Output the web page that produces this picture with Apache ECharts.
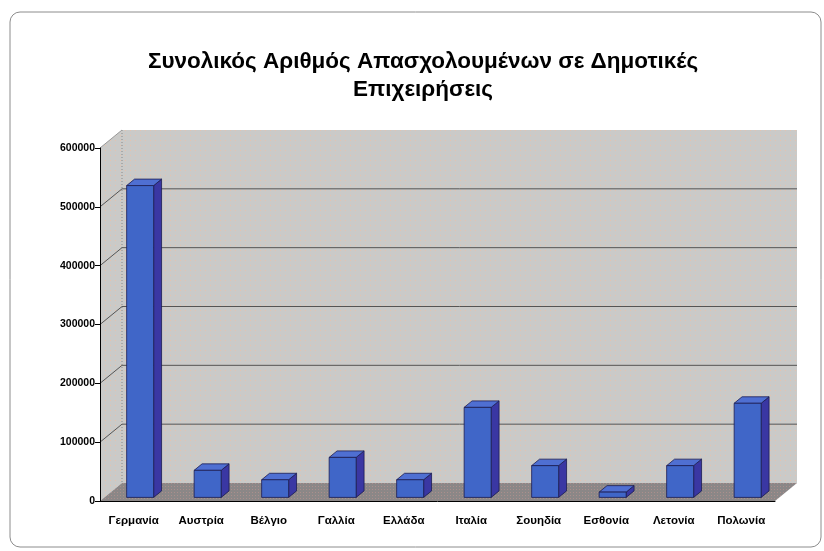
<!DOCTYPE html>
<html lang="el">
<head>
    <meta charset="UTF-8">
    <title>Συνολικός Αριθμός Απασχολουμένων</title>
    <script src="https://cdn.jsdelivr.net/npm/echarts@6/dist/echarts.min.js"></script>
    <style>
        html, body { margin: 0; padding: 0; background: #fff; }
        #chart { width: 824px; height: 551px; }
    </style>
</head>
<body>
<div id="chart"></div>
<script>
    var categories = ['Γερμανία', 'Αυστρία', 'Βέλγιο', 'Γαλλία', 'Ελλάδα', 'Ιταλία', 'Σουηδία', 'Εσθονία', 'Λετονία', 'Πολωνία'];
    var values = [530000, 46000, 30000, 68000, 30000, 153000, 54000, 9000, 54000, 160000];
    var gridTicks = [100000, 200000, 300000, 400000, 500000];

    var FONT = '"Liberation Sans", Arial, sans-serif';
    // depth of the 3d box, in px
    var DEPTH = [22, -18];

    function dotPattern(base, dot, step) {
        var c = document.createElement('canvas');
        c.width = step; c.height = step;
        var ctx = c.getContext('2d');
        ctx.fillStyle = base;
        ctx.fillRect(0, 0, step, step);
        ctx.fillStyle = dot;
        ctx.fillRect(0, 0, 1, 1);
        return { image: c, repeat: 'repeat' };
    }

    var wallFill = dotPattern('#cacac8', '#e6c2ad', 5);
    var floorFill = dotPattern('#8b8787', '#ab8f8c', 3);

    function renderWalls(params, api) {
        var cs = params.coordSys;
        var x0 = cs.x, x1 = cs.x + cs.width, yTop = cs.y, yBot = cs.y + cs.height;
        var dx = DEPTH[0], dy = DEPTH[1];
        var children = [
            { type: 'polygon', shape: { points: [[x0, yBot], [x0 + dx, yBot + dy], [x0 + dx, yTop + dy], [x0, yTop]] },
              style: { fill: wallFill } },
            { type: 'rect', shape: { x: x0 + dx, y: yTop + dy, width: cs.width, height: cs.height } ,
              style: { fill: wallFill } },
            { type: 'polygon', shape: { points: [[x0, yBot], [x1, yBot], [x1 + dx, yBot + dy], [x0 + dx, yBot + dy]] },
              style: { fill: floorFill } },
            { type: 'line', shape: { x1: x0 + dx, y1: yTop + dy, x2: x0 + dx, y2: yBot + dy },
              style: { stroke: '#8a8a8a', lineWidth: 1, lineDash: [1, 2] } },
            { type: 'line', shape: { x1: x0, y1: yTop, x2: x0 + dx, y2: yTop + dy },
              style: { stroke: '#9a9a9a', lineWidth: 1 } }
        ];
        gridTicks.forEach(function (v) {
            var y = api.coord([0, v])[1];
            children.push({
                type: 'polyline',
                shape: { points: [[x0, y], [x0 + dx, y + dy], [x1 + dx, y + dy]] },
                style: { stroke: '#555', lineWidth: 1, fill: null }
            });
        });
        return { type: 'group', children: children };
    }

    function renderBar(params, api) {
        var idx = api.value(0);
        var top = api.coord([idx, api.value(1)]);
        var base = api.coord([idx, 0]);
        var band = api.size([1, 0])[0];
        var w = band * 0.4;
        var f = [DEPTH[0] * 0.2, DEPTH[1] * 0.2];
        var s = [DEPTH[0] * 0.36, DEPTH[1] * 0.36];
        var xl = top[0] - w / 2 + f[0] + 2, xr = xl + w;
        var yt = top[1] + f[1], yb = base[1] + f[1];
        var edge = { stroke: '#1c1c50', lineWidth: 0.8 };
        return {
            type: 'group',
            children: [
                { type: 'polygon', shape: { points: [[xr, yt], [xr + s[0], yt + s[1]], [xr + s[0], yb + s[1]], [xr, yb]] },
                  style: Object.assign({ fill: '#3a37a3' }, edge) },
                { type: 'polygon', shape: { points: [[xl, yt], [xr, yt], [xr + s[0], yt + s[1]], [xl + s[0], yt + s[1]]] },
                  style: Object.assign({ fill: '#4f6fd2' }, edge) },
                { type: 'rect', shape: { x: xl, y: yt, width: w, height: yb - yt },
                  style: Object.assign({ fill: '#4066c8' }, edge) }
            ]
        };
    }

    var chart = echarts.init(document.getElementById('chart'));
    chart.setOption({
        animation: false,
        backgroundColor: '#fff',
        title: {
            text: 'Συνολικός Αριθμός Απασχολουμένων σε Δημοτικές\nΕπιχειρήσεις',
            left: 418,
            top: 43,
            textAlign: 'center',
            textStyle: { fontFamily: FONT, fontSize: 22.5, fontWeight: 'bold', color: '#000', lineHeight: 28 }
        },
        graphic: [{
            type: 'rect', silent: true, z: -10,
            shape: { x: 10, y: 12, width: 811, height: 535, r: 10 },
            style: { fill: 'none', stroke: '#8c8c8c', lineWidth: 1 }
        }],
        grid: { left: 100, right: 49, top: 148, bottom: 50 },
        xAxis: {
            type: 'category',
            data: categories,
            z: 5,
            axisLine: { lineStyle: { color: '#000', width: 1 } },
            axisTick: { length: 5, lineStyle: { color: '#000' } },
            axisLabel: { interval: 0, fontFamily: FONT, fontSize: 11.5, fontWeight: 'bold', color: '#000', margin: 14 }
        },
        yAxis: {
            type: 'value',
            min: 0,
            max: 600000,
            interval: 100000,
            z: 5,
            axisLine: { show: true, lineStyle: { color: '#000', width: 1 } },
            axisTick: { show: true, length: 5, lineStyle: { color: '#000' } },
            axisLabel: { fontFamily: FONT, fontSize: 10.5, fontWeight: 'bold', color: '#000', margin: 5,
                formatter: function (v) { return String(v); } },
            splitLine: { show: false }
        },
        series: [{
            type: 'custom',
            z: 1,
            silent: true,
            renderItem: renderWalls,
            data: [[0, 0]]
        }, {
            type: 'custom',
            z: 3,
            renderItem: renderBar,
            encode: { x: 0, y: 1 },
            data: values.map(function (v, i) { return [i, v]; })
        }]
    });
</script>
</body>
</html>
